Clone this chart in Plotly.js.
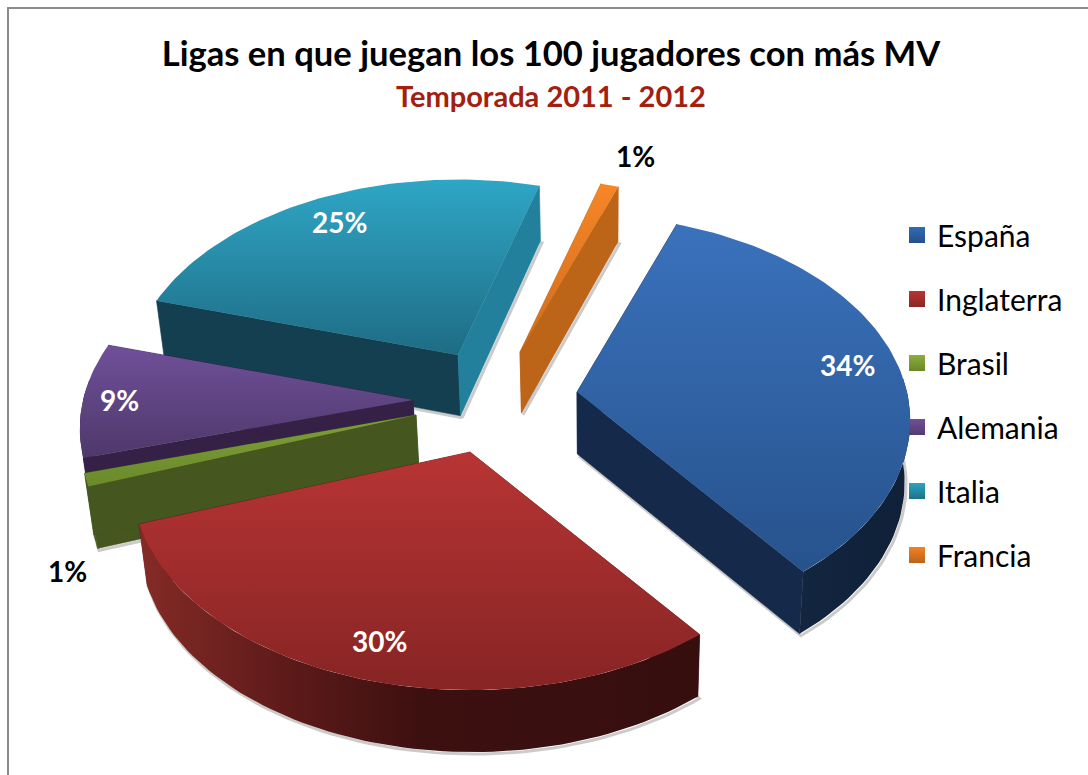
<!DOCTYPE html>
<html>
<head>
<meta charset="utf-8">
<script src="https://cdn.plot.ly/plotly-3.0.1.min.js"></script>
<style>html,body{margin:0;padding:0;background:#fff}#chart{width:1088px;height:775px}</style>
</head>
<body>
<div id="chart"></div>
<script>
// ---- data ----
const categories = ["España", "Inglaterra", "Brasil", "Alemania", "Italia", "Francia"];
const values = [34, 30, 1, 9, 25, 1];
const titleText = "Ligas en que juegan los 100 jugadores con más MV";
const subtitleText = "Temporada 2011 - 2012";

// ---- styles (top faces listed light to dark, top of the slice to its bottom) ----
const topColors = [["#3a72bc","#27528c"],["#b83434","#872424"],["#7f9f36","#6a8a2c"],["#70509a","#4e386a"],["#2fa6c6","#1e6c84"],["#f78626","#cf6d1e"]];
const swatchColors = [["#2f6db6","#254f86"],["#ba3433","#8b2525"],["#8bae3d","#6a862b"],["#70509a","#533a70"],["#2ea3c1","#1d7189"],["#f38222","#b9631a"]];
const sideColors = [["#152a4a","#152a4a"],["#5a1a1a","#5a1a1a"],["#45561e","#45561e"],["#342145","#342145"],["#143f50","#22809c"],["#bc6418","#bc6418"]];
const wallStops = [
  [[0,"#13263f"],[1,"#0f2038"]],
  [[0,"#852b27"],[0.25,"#5f1b1a"],[0.5,"#3d1010"],[1,"#360e0e"]],
  [[0,"#45561e"],[1,"#45561e"]],
  [[0,"#342145"],[1,"#342145"]],
  [[0,"#143f50"],[1,"#143f50"]],
  [[0,"#bc6418"],[1,"#bc6418"]]
];
const labelColors = ["#fff","#fff","#000","#fff","#fff","#000"];

// ---- projection of the tilted pie ----
const center = [490, 392], startAngle = 20, A = 335, B = 205, K = 0.139;
const explode = [[87,0],[-20,60],[-74,23],[-77,8],[-32,-37],[30,-40]];
const radiusScale = [0.985,1,0.99,0.985,0.975,0.97];
const paintOrder = [4,5,3,2,1,0];
const labelAt = [[847,365],[379,641],[67,571],[119,400],[339,222],[635,156]];

const total = values.reduce((a,b)=>a+b,0);
function rim(i, deg){
  const t = deg*Math.PI/180, p = 1/(1+K*Math.cos(t)), r = radiusScale[i];
  return [center[0]+explode[i][0]+r*A*Math.sin(t)*p, center[1]+explode[i][1]-r*B*Math.cos(t)*p];
}
function apex(i){ return [center[0]+explode[i][0], center[1]+explode[i][1]]; }
function down(pt){
  const d = 55 + 7*Math.max(0,Math.min(1,(pt[1]-190)/200));
  return [pt[0]-(pt[0]-600)*0.018, pt[1]+d];
}
function solid(pts, color){
  return {type:"scatter", mode:"lines", x:pts.map(p=>p[0]), y:pts.map(p=>p[1]), fill:"toself",
    fillcolor:color, line:{width:0.6,color:color}, hoverinfo:"skip", showlegend:false};
}
function graded(pts, type, stops){
  return {type:"scatter", mode:"lines", x:pts.map(p=>p[0]), y:pts.map(p=>p[1]), fill:"toself",
    line:{width:0}, fillgradient:{type:type, colorscale:stops}, hoverinfo:"skip", showlegend:false};
}

const traces = [];
let cum = 0;
const spans = values.map(v=>{ const s = startAngle+cum*360/total; cum+=v; return [s, startAngle+cum*360/total]; });
paintOrder.forEach(i=>{
  const [s,e] = spans[i], n = Math.max(4, Math.round((e-s)/1.5));
  const arc = []; for(let k=0;k<=n;k++) arc.push(rim(i, s+(e-s)*k/n));
  const a = apex(i), aD = down(a), arcD = arc.map(down);
  // soft contact shadow round the extruded base
  const base = [aD].concat(arcD,[aD]);
  traces.push({type:"scatter",mode:"lines",x:base.map(p=>p[0]+1.5),y:base.map(p=>p[1]+2),
    line:{width:3,color:"rgba(70,70,70,0.28)"},hoverinfo:"skip",showlegend:false});
  // radial sides, then the visible (front) part of the outer wall, then the top face
  traces.push(solid([a,arc[0],arcD[0],aD,a], sideColors[i][0]));
  traces.push(solid([a,arc[n],arcD[n],aD,a], sideColors[i][1]));
  const fs = Math.max(s,86), fe = Math.min(e,276);
  if (fe>fs){
    const m = Math.max(2,Math.round((fe-fs)/1.5)), fa=[];
    for(let k=0;k<=m;k++) fa.push(rim(i, fs+(fe-fs)*k/m));
    traces.push(graded(fa.concat(fa.map(down).reverse(),[fa[0]]), "horizontal", wallStops[i]));
  }
  // the y axis runs downward, so the gradient is listed bottom colour first
  traces.push(graded([a].concat(arc,[a]), "vertical", [[0,topColors[i][1]],[1,topColors[i][0]]]));
});
// legend entries
categories.forEach((c,i)=>traces.push({type:"scatter",mode:"markers",x:[-50],y:[-50],name:c,legendgroup:c,
  marker:{symbol:"square",size:18,color:swatchColors[i][0],gradient:{type:"vertical",color:swatchColors[i][1]}},hoverinfo:"skip"}));

const font = "Lato, Carlito, 'Open Sans', sans-serif";
const annotations = categories.map((c,i)=>({x:labelAt[i][0],y:labelAt[i][1],xref:"x",yref:"y",text:"<b>"+values[i]+"%</b>",
  showarrow:false,font:{family:font,size:28,color:labelColors[i]}}));
annotations.push({x:551,y:95,xref:"x",yref:"y",text:"<b>"+subtitleText+"</b>",showarrow:false,font:{family:font,size:29,color:"#a3200f"}});

Plotly.newPlot("chart", traces, {
  width:1088, height:775, margin:{l:0,r:0,t:0,b:0}, paper_bgcolor:"#fff", plot_bgcolor:"#fff",
  xaxis:{range:[0,1088],visible:false,fixedrange:true}, yaxis:{range:[775,0],visible:false,fixedrange:true},
  title:{text:"<b>"+titleText+"</b>",x:551/1088,xanchor:"center",y:1-54/775,yanchor:"middle",font:{family:font,size:34.6,color:"#000"}},
  annotations,
  shapes:[{type:"rect",xref:"x",yref:"y",x0:8,y0:8,x1:1200,y1:900,line:{color:"#8c8c8c",width:2},layer:"below"}],
  legend:{x:897/1088,xanchor:"left",y:1-209/775,yanchor:"top",font:{family:font,size:30,color:"#000"},tracegroupgap:22,bgcolor:"rgba(0,0,0,0)",itemclick:false,itemdoubleclick:false},
  showlegend:true
},{displayModeBar:false,staticPlot:true});
</script>
</body>
</html>
